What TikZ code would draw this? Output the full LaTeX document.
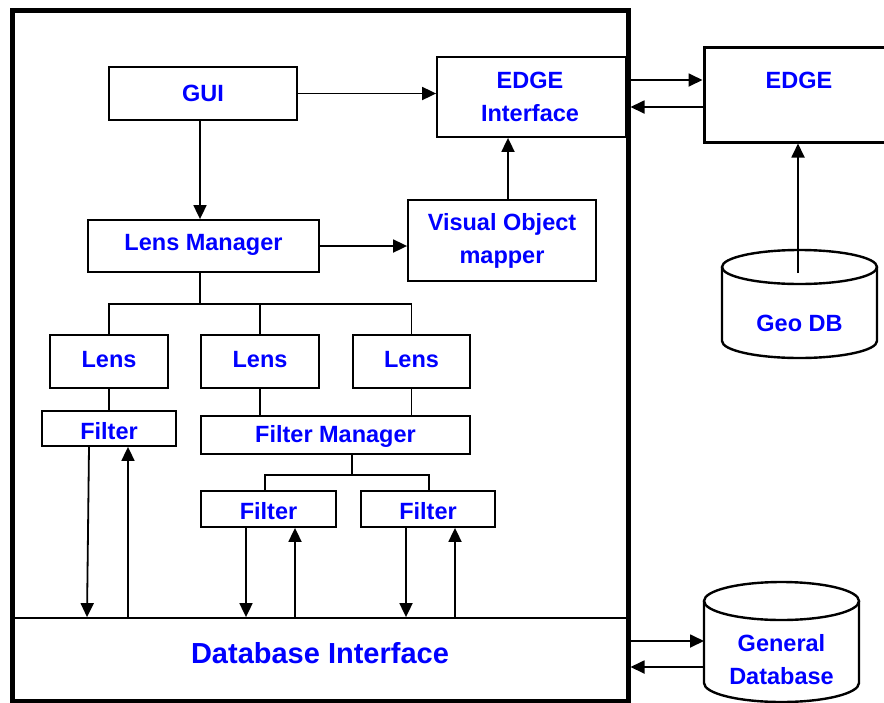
\documentclass[tikz,border=0pt]{standalone}
\usepackage{fontspec}
\setmainfont{Liberation Sans}
\usetikzlibrary{arrows.meta}
\definecolor{lblblue}{RGB}{0,0,255}
\tikzset{
  box/.style={draw, line width=1.8pt, inner sep=0pt, fill=white},
  lbl/.style={text=lblblue, font=\fontsize{23.5}{33}\selectfont\bfseries, align=center, inner sep=0pt},
  biglbl/.style={text=lblblue, font=\fontsize{29}{35}\selectfont\bfseries, inner sep=0pt},
  conn/.style={line width=1.8pt},
  arr/.style={line width=1.8pt, -{Triangle[length=14pt,width=13pt]}},
  db/.style={line width=2.4pt},
}
\begin{document}
\begin{tikzpicture}[x=1pt,y=-1pt]
\useasboundingbox (0,0) rectangle (884,702);

% ---- system block ----
\node[box, minimum width=616pt, minimum height=82pt] (dbi) at (320,659) {};
\node[biglbl] (dbitext) at (320,653) {Database Interface};
\node[draw, line width=5pt, minimum width=616pt, minimum height=691pt, inner sep=0pt] (sys) at (320,355.5) {};

\node[box, minimum width=188pt, minimum height=53pt] (gui) at (203,93.5) {};
\node[lbl] (guitext) at (203,93) {GUI};
\node[box, minimum width=189pt, minimum height=80pt] (ei) at (531.5,97) {};
\node[lbl] (eitext) at (530,97) {EDGE\\Interface};
\node[box, minimum width=231pt, minimum height=52pt] (lm) at (203.5,246) {};
\node[lbl] (lmtext) at (203.5,245) {Lens Manager};
\node[box, minimum width=188pt, minimum height=81pt] (vom) at (502,240.5) {};
\node[lbl] (vomtext) at (502,240.5) {Visual Object\\mapper};

\node[box, minimum width=118pt, minimum height=53pt] (lens1) at (109,361.5) {};
\node[box, minimum width=118pt, minimum height=53pt] (lens2) at (260,361.5) {};
\node[box, minimum width=117pt, minimum height=53pt] (lens3) at (411.5,361.5) {};
\node[lbl] (l1text) at (109,360) {Lens};
\node[lbl] (l2text) at (260,360) {Lens};
\node[lbl] (l3text) at (411.5,360) {Lens};

\node[box, minimum width=134pt, minimum height=35pt] (f1) at (109,428.5) {};
\node[lbl] (f1text) at (109,431) {Filter};
\node[box, minimum width=269pt, minimum height=38pt] (fm) at (335.5,435) {};
\node[lbl] (fmtext) at (335.5,436) {Filter Manager};
\node[box, minimum width=135pt, minimum height=36pt] (f2) at (268.5,509) {};
\node[lbl] (f2text) at (268.5,511) {Filter};
\node[box, minimum width=134pt, minimum height=36pt] (f3) at (428,509) {};
\node[lbl] (f3text) at (428,511) {Filter};

% ---- outside the system ----
\node[draw, line width=3pt, minimum width=190pt, minimum height=95pt, inner sep=0pt] (edge) at (799,94.5) {};
\node[lbl] (edgetext) at (799,80) {EDGE};

% Geo DB cylinder
\draw[db] (799.5,267) ellipse [x radius=77.5, y radius=17];
\draw[db] (722,267) -- (722,341) arc[start angle=180, end angle=0, x radius=77.5, y radius=17] -- (877,267);
\coordinate (geotop) at (798,273);
\node[lbl] (geotext) at (799.5,323) {Geo DB};

% General Database cylinder
\draw[db] (781.5,601) ellipse [x radius=77.5, y radius=19];
\draw[db] (704,601) -- (704,683) arc[start angle=180, end angle=0, x radius=77.5, y radius=19] -- (859,601);
\coordinate (gdbw) at (704,0);
\node[lbl] (gdbtext) at (781.5,660) {General\\Database};

% ---- helper coordinates ----
\coordinate (spine) at (200,0);
\coordinate (lmbus) at (200,304);
\coordinate (fmbus) at (352,475);
\coordinate (vomx) at (508,0);
\coordinate (ret1) at (0,107);
\coordinate (g1) at (0,641);
\coordinate (g2) at (0,667);

% ---- connectors ----
\draw[arr] (gui.east) -- (gui.east -| ei.west);
\draw[arr] (gui.south -| spine) -- (lm.north -| spine);
\draw[arr] (lm.east) -- (lm.east -| vom.west);
\draw[arr] (vom.north -| vomx) -- (ei.south -| vomx);

\draw[arr] (sys.east |- edgetext) -- (edge.west |- edgetext);
\draw[arr] (edge.west |- ret1) -- (sys.east |- ret1);
\draw[arr] (geotop) -- (edge.south -| geotop);

\draw[arr] (sys.east |- g1) -- (gdbw |- g1);
\draw[arr] (gdbw |- g2) -- (sys.east |- g2);

% lens tree
\draw[conn] (lm.south -| lmbus) -- (lmbus);
\draw[conn] (lens1.north) |- (lmbus) -| (lens3.north);
\draw[conn] (lens2.north) -- (lens2.north |- lmbus);
\draw[conn] (lens1.south) -- (f1.north);
\draw[conn] (lens2.south) -- (lens2.south |- fm.north);
\draw[conn] (lens3.south) -- (lens3.south |- fm.north);

% filter tree
\draw[conn] (fm.south -| fmbus) -- (fmbus);
\draw[conn] ([xshift=-3.5pt]f2.north) |- (fmbus) -| ([xshift=1pt]f3.north);

% filters to the database interface
\draw[arr] ([xshift=-20pt]f1.south) -- ([xshift=-22pt]f1.south |- dbi.north);
\draw[arr] ([xshift=19pt]f1.south |- dbi.north) -- ([xshift=19pt]f1.south);
\draw[arr] ([xshift=-22.5pt]f2.south) -- ([xshift=-22.5pt]f2.south |- dbi.north);
\draw[arr] ([xshift=26.5pt]f2.south |- dbi.north) -- ([xshift=26.5pt]f2.south);
\draw[arr] ([xshift=-22pt]f3.south) -- ([xshift=-22pt]f3.south |- dbi.north);
\draw[arr] ([xshift=27pt]f3.south |- dbi.north) -- ([xshift=27pt]f3.south);
\end{tikzpicture}
\end{document}
